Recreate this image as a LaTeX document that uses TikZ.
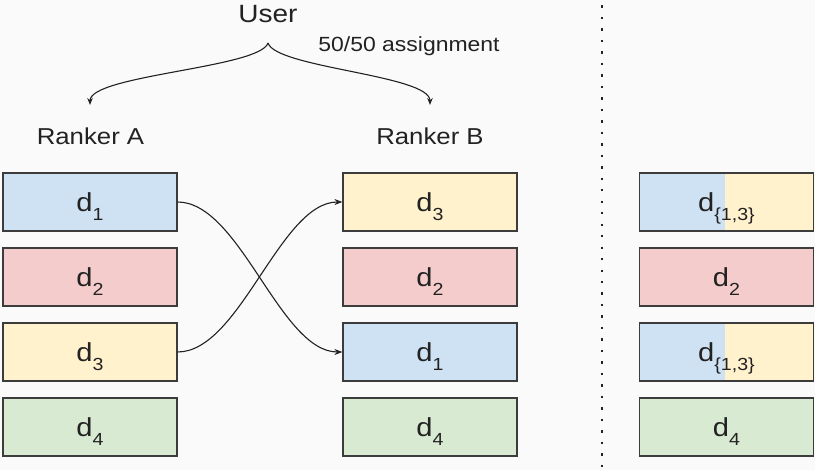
\documentclass[tikz,border=0pt]{standalone}
\usepackage{fontspec}
\setmainfont{Liberation Sans}
\usetikzlibrary{arrows.meta}
\definecolor{bgc}{HTML}{FAFAFA}
\definecolor{cblue}{HTML}{CFE2F3}
\definecolor{cred}{HTML}{F4CCCC}
\definecolor{cyel}{HTML}{FFF2CC}
\definecolor{cgreen}{HTML}{D9EAD3}
\definecolor{edge}{HTML}{3C3C3C}
\definecolor{ink}{HTML}{222222}
\newcommand{\wide}[1]{\scalebox{1.12}[1]{#1}}
\newcommand{\dlab}[1]{\wide{\fontsize{26}{26}\selectfont d\smash{\raisebox{-9pt}{\fontsize{17.5}{17.5}\selectfont #1}}}}
\tikzset{
  doc/.style={draw=edge, line width=1.2pt, minimum width=174pt, minimum height=58pt, inner sep=0pt, text=ink},
  split/.style={doc, path picture={
     \fill[cblue] (path picture bounding box.south west) rectangle ([xshift=-1.5pt]path picture bounding box.north);
     \fill[cyel] ([xshift=-1.5pt]path picture bounding box.south) rectangle (path picture bounding box.north east);}},
  title/.style={anchor=base, text=ink, inner sep=0pt},
  conn/.style={draw=ink, line width=1.1pt, -{Stealth[length=8pt,width=6pt]}},
}
\begin{document}
\begin{tikzpicture}[x=1pt,y=-1pt]
\fill[bgc] (0,0) rectangle (815,470);
\useasboundingbox (0,0) rectangle (815,470);

% titles
\node[title, font=\fontsize{25}{25}\selectfont] (user) at (268,23) {\wide{User}};
\node[title, font=\fontsize{20.5}{20.5}\selectfont] (assign) at (409,52) {\wide{50/50 assignment}};
\node[title, font=\fontsize{23}{23}\selectfont] (rA) at (90.5,145) {\wide{Ranker A}};
\node[title, font=\fontsize{23}{23}\selectfont] (rB) at (430,145) {\wide{Ranker B}};

% brace
\coordinate (tip) at (268,43);
\coordinate (bl) at (90,105);
\coordinate (br) at (430,105);
\draw[conn, -{Stealth[length=7pt,width=5.5pt]}] (tip) .. controls (260,68) and (90,75) .. (bl);
\draw[conn, -{Stealth[length=7pt,width=5.5pt]}] (tip) .. controls (276,68) and (430,75) .. (br);

% Ranker A
\node[doc, fill=cblue]  (a1) at (90,202) {\dlab{1}};
\node[doc, fill=cred]   (a2) at (90,277) {\dlab{2}};
\node[doc, fill=cyel]   (a3) at (90,352) {\dlab{3}};
\node[doc, fill=cgreen] (a4) at (90,427) {\dlab{4}};

% Ranker B
\node[doc, fill=cyel]   (b1) at (430,202) {\dlab{3}};
\node[doc, fill=cred]   (b2) at (430,277) {\dlab{2}};
\node[doc, fill=cblue]  (b3) at (430,352) {\dlab{1}};
\node[doc, fill=cgreen] (b4) at (430,427) {\dlab{4}};

% swaps
\draw[conn] (a1.east) .. controls (240,202) and (280,352) .. (b3.west);
\draw[conn] (a3.east) .. controls (240,352) and (280,202) .. (b1.west);

% divider
\coordinate (dtop) at (602,5.5);
\coordinate (dbot) at (602,468);
\draw[ink, line width=2.3pt, dash pattern=on 2.3pt off 9.18pt] (dtop) -- (dbot);

% interleaved
\node[split] (c1) at (726.5,202) {\dlab{\{1,3\}}};
\node[doc, fill=cred]   (c2) at (726.5,277) {\dlab{2}};
\node[split] (c3) at (726.5,352) {\dlab{\{1,3\}}};
\node[doc, fill=cgreen] (c4) at (726.5,427) {\dlab{4}};
\end{tikzpicture}
\end{document}
